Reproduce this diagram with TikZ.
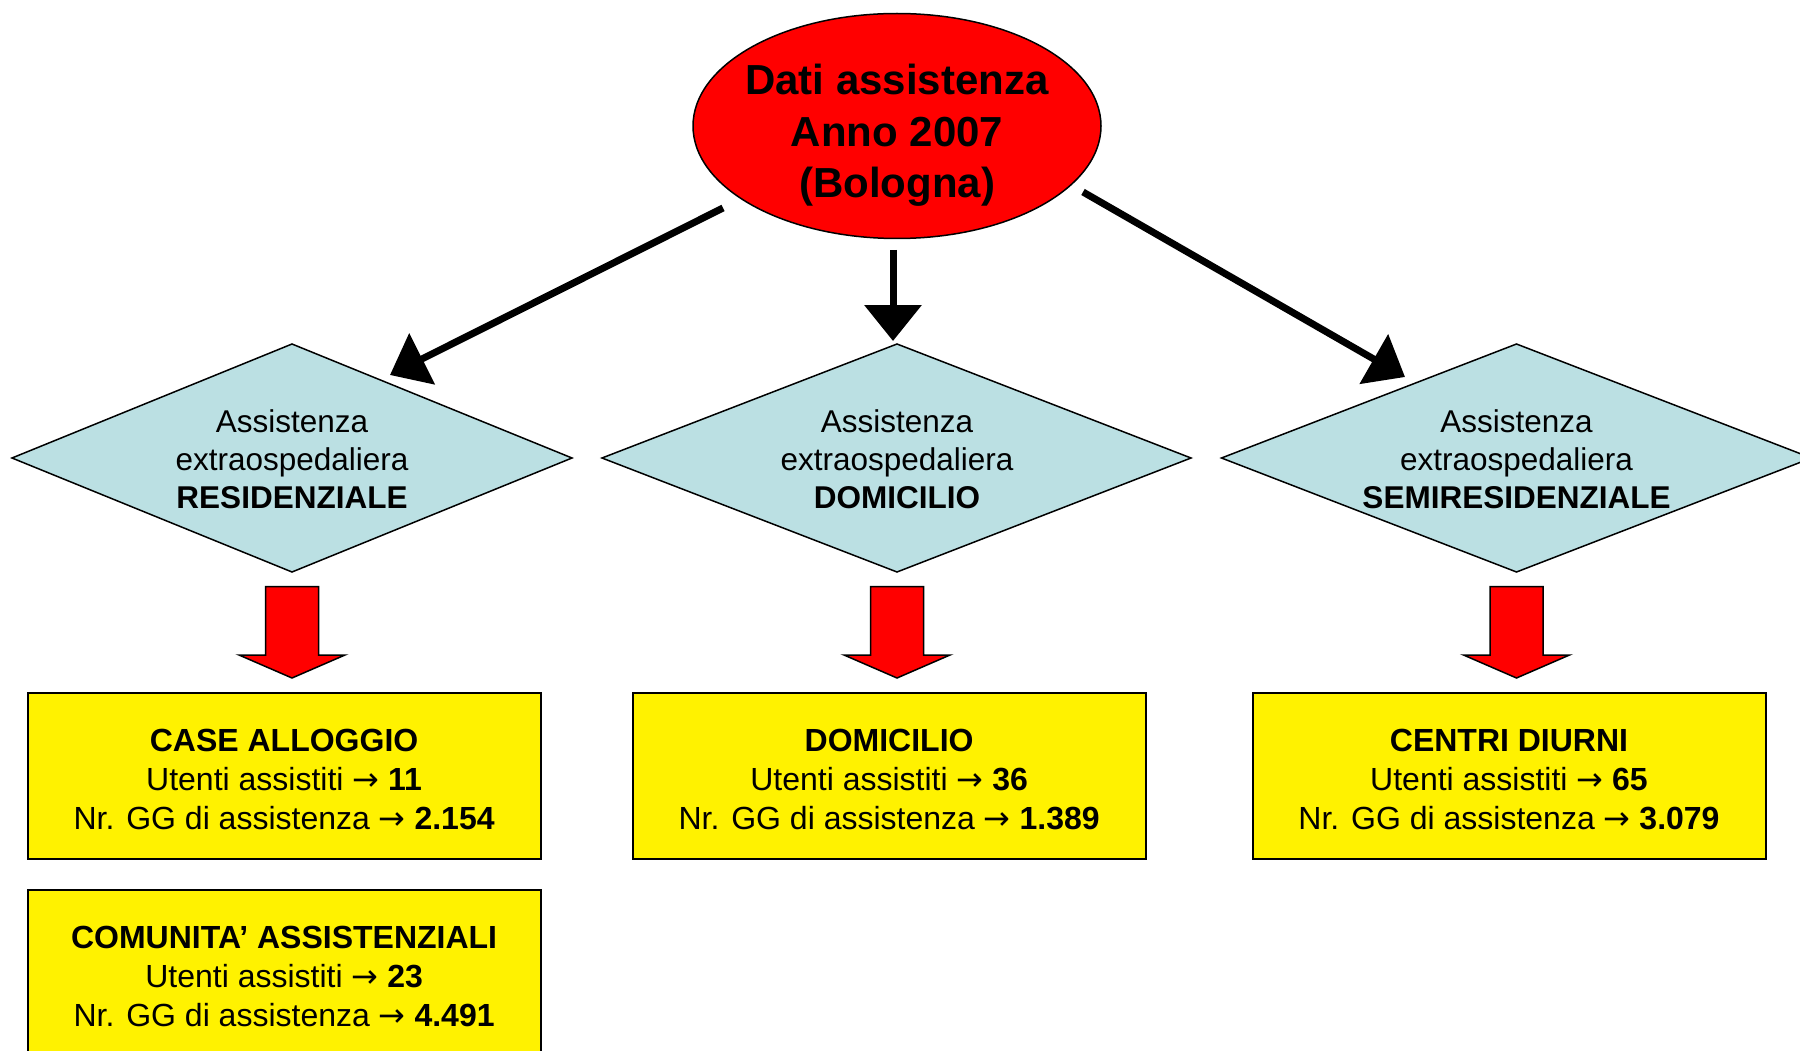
\documentclass[tikz,border=0pt]{standalone}
\usepackage{fontspec}
\setmainfont{Liberation Sans}
\newfontfamily\arrfont{DejaVu Sans}
\newcommand{\txtarrow}{{\arrfont →}}
\usetikzlibrary{arrows.meta}
\definecolor{dia}{RGB}{187,224,227}
\begin{document}
\begin{tikzpicture}[x=1pt,y=-1pt,
 conn/.style={line width=7pt,-{Triangle[length=36pt,width=56pt]}},
 dshape/.style={fill=dia,draw=black,line width=1.5pt,line join=miter},
 bshape/.style={fill=yellow,draw=black,line width=2pt},
 rarrow/.style={fill=red,draw=black,line width=1.5pt},
 dtext/.style={align=center,font=\fontsize{31.5}{38}\selectfont,inner sep=0pt},
 btext/.style={align=center,font=\fontsize{32}{39}\selectfont,inner sep=0pt},
]
\path[use as bounding box] (0,0) rectangle (1800,1051);
\clip (0,0) rectangle (1800,1051);
\fill[white] (0,0) rectangle (1800,1051);

% top ellipse
\draw[fill=red,line width=1.5pt] (897,126) ellipse [x radius=204, y radius=112.5];
\node[font=\bfseries\fontsize{42}{51.7}\selectfont,align=center,inner sep=0pt] (top) at (897,135.5) {Dati assistenza\\Anno 2007\\(Bologna)};

% diamonds
\draw[dshape] (12,458) -- (292,344) -- (572,458) -- (292,572) -- cycle;
\draw[dshape] (602,458) -- (897,344) -- (1191,458) -- (897,572) -- cycle;
\draw[dshape] (1221.5,458) -- (1516.5,344) -- (1811.5,458) -- (1516.5,572) -- cycle;
\node[dtext] (dl) at (292,459) {Assistenza\\extraospedaliera\\\textbf{RESIDENZIALE}};
\node[dtext] (dm) at (897,459) {Assistenza\\extraospedaliera\\\textbf{DOMICILIO}};
\node[dtext] (dr) at (1516.5,459) {Assistenza\\extraospedaliera\\\textbf{SEMIRESIDENZIALE}};

% black connectors
\coordinate (s1) at (723,208); \coordinate (e1) at (390,375);
\coordinate (s2) at (893,250); \coordinate (e2) at (893,341);
\coordinate (s3) at (1083,192); \coordinate (e3) at (1405,377);
\draw[conn] (s1) -- (e1);
\draw[conn] (s2) -- (e2);
\draw[conn] (s3) -- (e3);

% red block arrows
\foreach \cx in {292,897,1516.5}{
 \begin{scope}[shift={(\cx,0)}]
  \draw[rarrow] (-26.5,586.6) -- (26.5,586.6) -- (26.5,655) -- (53,655) -- (0,678) -- (-53,655) -- (-26.5,655) -- cycle;
 \end{scope}
}

% yellow boxes
\draw[bshape] (27.5,693.4) rectangle (540.7,858.7);
\draw[bshape] (632.5,693.4) rectangle (1145.7,858.7);
\draw[bshape] (1252.5,693.4) rectangle (1765.6,858.7);
\draw[bshape] (27.5,889.7) rectangle (540.7,1056);
\node[btext] (b1) at (284.1,779.3) {\textbf{CASE ALLOGGIO}\\Utenti assistiti \txtarrow{} \textbf{11}\\Nr. GG di assistenza \txtarrow{} \textbf{2.154}};
\node[btext] (b2) at (889.1,779.3) {\textbf{DOMICILIO}\\Utenti assistiti \txtarrow{} \textbf{36}\\Nr. GG di assistenza \txtarrow{} \textbf{1.389}};
\node[btext] (b3) at (1509,779.3) {\textbf{CENTRI DIURNI}\\Utenti assistiti \txtarrow{} \textbf{65}\\Nr. GG di assistenza \txtarrow{} \textbf{3.079}};
\node[btext] (b4) at (284.1,976.3) {\textbf{COMUNITA’ ASSISTENZIALI}\\Utenti assistiti \txtarrow{} \textbf{23}\\Nr. GG di assistenza \txtarrow{} \textbf{4.491}};
\end{tikzpicture}
\end{document}
